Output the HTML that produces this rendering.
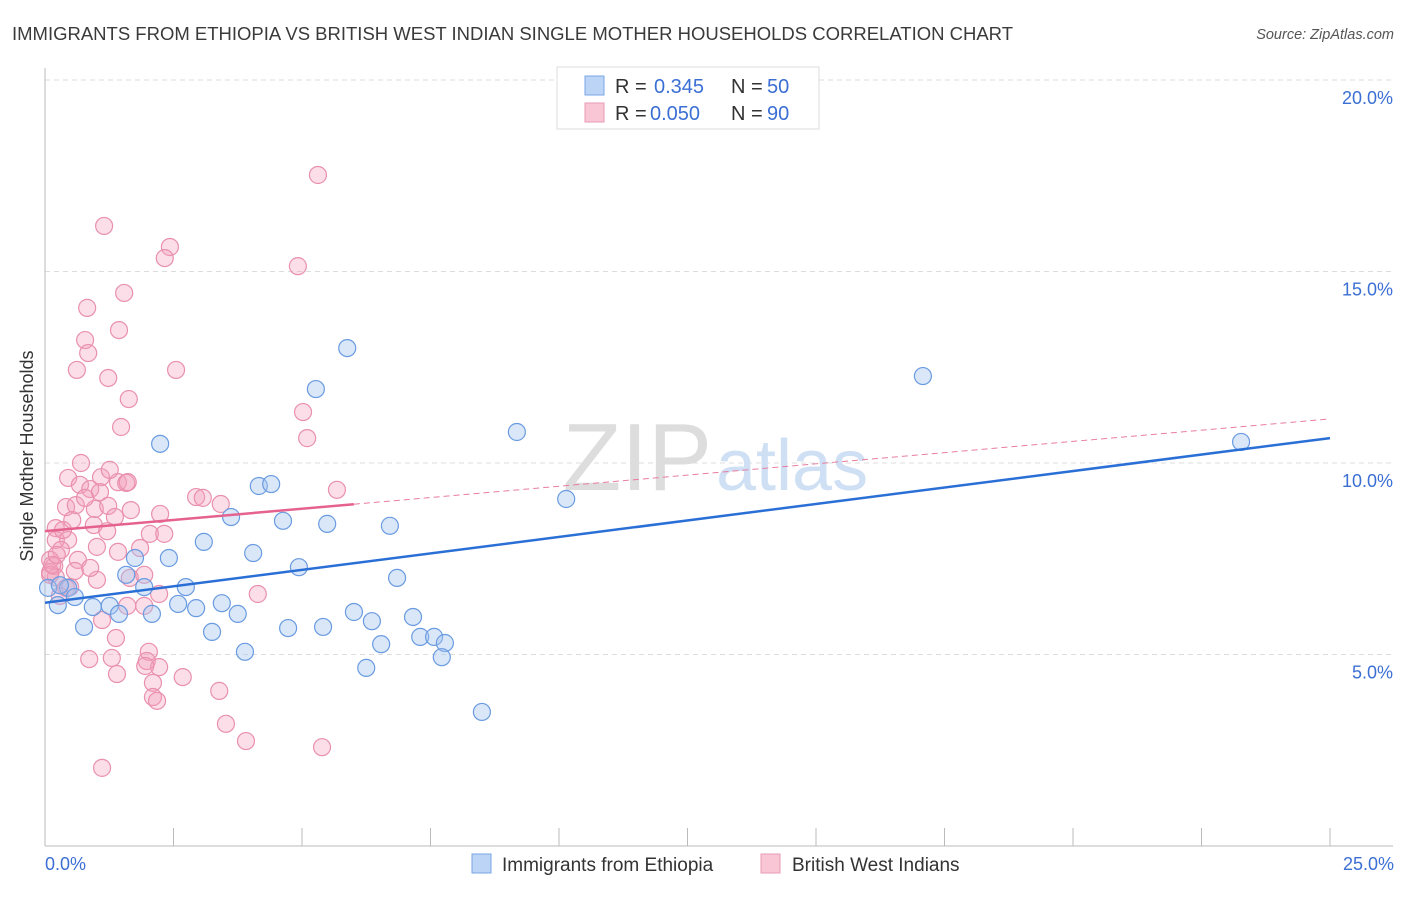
<!DOCTYPE html>
<html><head><meta charset="utf-8"><style>
body{margin:0;background:#fff;font-family:"Liberation Sans",sans-serif}
svg text{font-family:"Liberation Sans",sans-serif}
</style></head><body>
<svg id="chart" width="1406" height="892">
<text x="12" y="40" font-size="18" fill="#3a3a3a" textLength="1001" lengthAdjust="spacingAndGlyphs">IMMIGRANTS FROM ETHIOPIA VS BRITISH WEST INDIAN SINGLE MOTHER HOUSEHOLDS CORRELATION CHART</text>
<text x="1394" y="39" font-size="14.5" fill="#555" font-style="italic" text-anchor="end">Source: ZipAtlas.com</text>
<g id="grid"></g>
<text x="712" y="490" font-size="96" font-family="Liberation Serif" fill="#ddd" text-anchor="end">ZIP</text>
<text x="716" y="490" font-size="72" fill="#cfe0f4">atlas</text>
<g id="pts"></g>
<g id="lines"></g>
<text x="33" y="456" font-size="18" fill="#333" text-anchor="middle" transform="rotate(-90 33 456)">Single Mother Households</text>
<text x="45" y="870" font-size="18" fill="#3b6fd4">0.0%</text>
<text x="1394" y="870" font-size="18" fill="#3b6fd4" text-anchor="end">25.0%</text>
<g>
<rect x="557" y="67" width="262" height="62" fill="#fff" stroke="#ddd"/>
<rect x="585" y="76" width="19" height="19" fill="#bcd4f6" stroke="#7aa6e6"/>
<rect x="585" y="103" width="19" height="19" fill="#f9c6d6" stroke="#ea9ab4"/>
<text x="615" y="93" font-size="20" fill="#333">R =</text>
<text x="654" y="93" font-size="20" fill="#3b6fd4">0.345</text>
<text x="731" y="93" font-size="20" fill="#333">N =</text>
<text x="767" y="93" font-size="20" fill="#3b6fd4">50</text>
<text x="615" y="120" font-size="20" fill="#333">R =</text>
<text x="650" y="120" font-size="20" fill="#3b6fd4">0.050</text>
<text x="731" y="120" font-size="20" fill="#333">N =</text>
<text x="767" y="120" font-size="20" fill="#3b6fd4">90</text>
</g>
<g>
<rect x="472" y="854" width="19" height="19" fill="#bcd4f6" stroke="#7aa6e6"/>
<text x="502" y="871" font-size="19" fill="#333">Immigrants from Ethiopia</text>
<rect x="761" y="854" width="19" height="19" fill="#f9c6d6" stroke="#ea9ab4"/>
<text x="792" y="871" font-size="19" fill="#333">British West Indians</text>
</g>
</svg>
<script>
const yTicks=[5,10,15,20];
const yTickLabels=["5.0%","10.0%","15.0%","20.0%"];
const xTicks=[0,2.5,5,7.5,10,12.5,15,17.5,20,22.5,25];
const blueX=[2.24,5.88,5.27,17.08,23.27,9.18,10.14,4.16,4.40,3.62,4.63,5.49,6.71,3.09,4.05,1.75,2.41,4.94,1.58,1.93,2.74,6.85,0.45,0.58,0.25,0.93,1.26,1.44,2.08,2.59,2.94,3.44,3.75,6.01,6.36,7.16,3.25,4.73,5.41,7.30,7.57,7.78,6.54,3.89,7.72,6.25,8.50,0.76,0.06,0.29];
const blueY=[10.50,13.0,11.93,12.27,10.55,10.81,9.06,9.40,9.45,8.59,8.49,8.41,8.36,7.94,7.65,7.52,7.52,7.28,7.08,6.76,6.76,7.00,6.74,6.50,6.29,6.24,6.27,6.06,6.06,6.32,6.21,6.34,6.06,6.11,5.87,5.98,5.59,5.69,5.72,5.46,5.46,5.30,5.27,5.07,4.93,4.65,3.50,5.72,6.74,6.81];
const pinkX=[5.31,1.15,2.43,2.33,4.92,1.54,0.82,1.44,0.78,0.84,2.55,0.62,1.23,1.63,5.02,5.10,1.48,0.70,0.45,5.68,1.09,1.42,1.58,0.68,0.88,2.94,3.07,1.07,3.42,0.41,0.60,0.97,1.23,1.67,2.24,1.36,0.95,0.21,2.04,2.32,1.21,0.45,0.21,1.01,0.31,1.42,0.64,0.10,0.18,0.10,0.58,0.21,1.65,1.01,0.41,2.22,4.14,1.60,1.93,1.11,1.38,2.02,0.86,1.30,1.98,2.22,1.95,1.40,2.68,2.10,2.10,2.18,3.39,3.52,3.91,5.39,1.11,0.10,0.14,0.49,0.23,0.35,0.53,0.78,1.61,1.26,1.93,1.85,0.88,0.29];
const pinkY=[17.52,16.19,15.64,15.35,15.14,14.44,14.05,13.47,13.21,12.87,12.43,12.43,12.22,11.67,11.33,10.65,10.94,10.00,9.61,9.30,9.63,9.50,9.48,9.43,9.32,9.11,9.09,9.24,8.93,8.85,8.90,8.80,8.88,8.77,8.67,8.59,8.38,8.30,8.15,8.15,8.22,7.99,7.99,7.81,7.73,7.68,7.47,7.47,7.31,7.15,7.18,7.02,7.00,6.95,6.74,6.58,6.58,6.27,6.27,5.90,5.43,5.07,4.88,4.91,4.83,4.67,4.70,4.49,4.41,4.26,3.89,3.79,4.05,3.19,2.74,2.58,2.04,7.08,7.34,6.76,7.60,8.25,8.51,9.09,9.50,9.82,7.08,7.78,7.26,6.53];
const blueTrend=[6.35,10.65];
const pinkTrend=[8.22,11.15];
const pinkSolidEnd=6.01;
const NS='http://www.w3.org/2000/svg';
const X=v=>45+v/25*1285;
const Y=v=>846-v/20*766;
function mk(tag,attrs,parent){const e=document.createElementNS(NS,tag);for(const k in attrs)e.setAttribute(k,attrs[k]);parent.appendChild(e);return e;}
const grid=document.getElementById('grid');
yTicks.forEach((t,i)=>{
 const l=mk('line',{x1:45,x2:1393,y1:Y(t),y2:Y(t),stroke:'#dcdcdc','stroke-dasharray':'5,4'},grid);
 
 
 const tx=mk('text',{x:1393,y:Y(t)+24,'font-size':18,fill:'#3b6fd4','text-anchor':'end'},grid);
 tx.textContent=yTickLabels[i];
 
 
});
const ax=mk('line',{x1:45,x2:1393,y1:846,y2:846,stroke:'#bbb'},grid);


const ay=mk('line',{x1:45,x2:45,y1:68,y2:846,stroke:'#bbb'},grid);


xTicks.forEach(t=>{
 const l=mk('line',{x1:X(t),x2:X(t),y1:828,y2:846,stroke:'#bbb'},grid);
 
 
});
const pts=document.getElementById('pts');
pinkX.forEach((v,i)=>{
 const c=mk('circle',{cx:X(v),cy:Y(pinkY[i]),r:8.5,fill:'rgba(244,160,188,0.35)',stroke:'#e990ae','stroke-width':1.2},pts);
 
 
});
blueX.forEach((v,i)=>{
 const c=mk('circle',{cx:X(v),cy:Y(blueY[i]),r:8.5,fill:'rgba(160,196,240,0.4)',stroke:'#6a9be0','stroke-width':1.2},pts);
 
 
});
const lines=document.getElementById('lines');
const pm=(pinkTrend[1]-pinkTrend[0])/25;
const pd=mk('line',{x1:X(pinkSolidEnd),y1:Y(pinkTrend[0]+pm*pinkSolidEnd),x2:X(25),y2:Y(pinkTrend[1]),stroke:'#e97ca0','stroke-width':1,'stroke-dasharray':'6,4'},lines);


const ps=mk('line',{x1:X(0),y1:Y(pinkTrend[0]),x2:X(pinkSolidEnd),y2:Y(pinkTrend[0]+pm*pinkSolidEnd),stroke:'#e5628e','stroke-width':2.5},lines);


const bl=mk('line',{x1:X(0),y1:Y(blueTrend[0]),x2:X(25),y2:Y(blueTrend[1]),stroke:'#2a6fd6','stroke-width':2.5},lines);


</script>
</body></html>
